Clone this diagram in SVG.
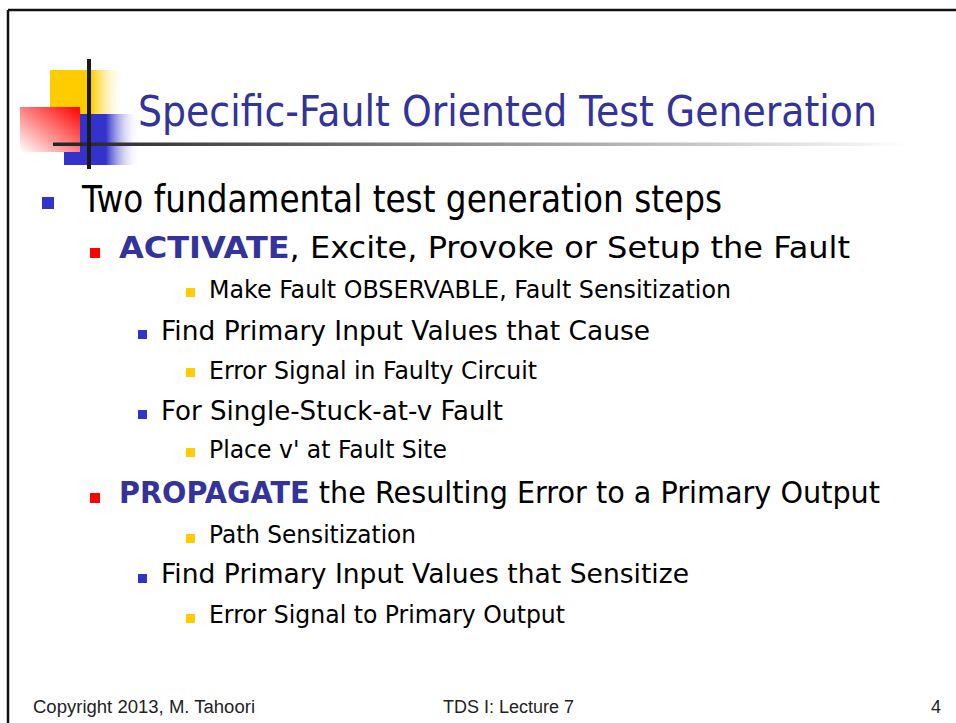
<svg xmlns="http://www.w3.org/2000/svg" width="956" height="723" viewBox="0 0 956 723">
  <defs>
    <linearGradient id="gYellow" x1="0" y1="0" x2="1" y2="0">
      <stop offset="0" stop-color="#FFCC00"/>
      <stop offset="0.55" stop-color="#FFCC00"/>
      <stop offset="1" stop-color="#FFFFFF" stop-opacity="0"/>
    </linearGradient>
    <linearGradient id="gBlue" x1="0" y1="0" x2="1" y2="0">
      <stop offset="0" stop-color="#3333CC"/>
      <stop offset="0.55" stop-color="#3333CC"/>
      <stop offset="1" stop-color="#FFFFFF" stop-opacity="0"/>
    </linearGradient>
    <linearGradient id="gRed" x1="1" y1="0" x2="0" y2="1">
      <stop offset="0" stop-color="#FF0000"/>
      <stop offset="1" stop-color="#FFFFFF"/>
    </linearGradient>
    <linearGradient id="gRule" x1="53" y1="0" x2="910" y2="0" gradientUnits="userSpaceOnUse">
      <stop offset="0" stop-color="#222222"/>
      <stop offset="1" stop-color="#FFFFFF"/>
    </linearGradient>
  </defs>
  <style>
    .body { font-family: "DejaVu Sans", Verdana, sans-serif; fill: #000000; }
    .title { font-family: "DejaVu Sans", Verdana, sans-serif; fill: #333399; font-size: 42px; }
    .kw { font-weight: bold; fill: #333399; }
    .l1 { font-size: 37px; }
    .l2 { font-size: 30px; }
    .l3 { font-size: 27px; }
    .l4 { font-size: 24px; }
    .foot { font-family: "Liberation Sans", Arial, sans-serif; font-size: 18px; fill: #222222; }
    .bBlue { fill: #3333CC; }
    .bRed { fill: #FF0000; }
    .bYellow { fill: #FFCC00; }
  </style>

  <rect width="956" height="723" fill="#FFFFFF"/>

  <!-- slide frame: top and left rules -->
  <g id="frame" stroke="#111111" stroke-width="2.5" fill="none">
    <line x1="8" y1="10" x2="956" y2="10"/>
    <line x1="8" y1="10" x2="8" y2="723"/>
  </g>

  <!-- title ornament -->
  <g id="ornament">
    <rect x="50" y="70" width="75" height="45" fill="url(#gYellow)"/>
    <rect x="64" y="114" width="76" height="51" fill="url(#gBlue)"/>
    <rect x="20" y="107" width="60" height="45" fill="url(#gRed)"/>
    <rect x="53" y="142.5" width="857" height="3.5" fill="url(#gRule)"/>
    <rect x="87" y="59" width="4" height="110" fill="#1A1A1A"/>
  </g>

  <g id="title">
    <text class="title" x="138" y="126" textLength="739" lengthAdjust="spacingAndGlyphs">Specific-Fault Oriented Test Generation</text>
  </g>

  <g id="bullets">
    <rect class="bBlue" x="42" y="197" width="12" height="12"/>
    <rect class="bRed" x="90" y="248" width="10" height="10"/>
    <rect class="bYellow" x="186" y="288" width="9" height="9"/>
    <rect class="bBlue" x="138" y="330" width="9" height="9"/>
    <rect class="bYellow" x="186" y="368" width="9" height="9"/>
    <rect class="bBlue" x="138" y="410" width="9" height="9"/>
    <rect class="bYellow" x="186" y="448" width="9" height="9"/>
    <rect class="bRed" x="90" y="493" width="10" height="10"/>
    <rect class="bYellow" x="186" y="534" width="9" height="9"/>
    <rect class="bBlue" x="138" y="574" width="9" height="9"/>
    <rect class="bYellow" x="186" y="614" width="9" height="9"/>
  </g>

  <g id="body-text" class="body">
    <text class="body l1" x="82" y="212" textLength="640" lengthAdjust="spacingAndGlyphs">Two fundamental test generation steps</text>
    <text class="body l2" x="119" y="258" textLength="731" lengthAdjust="spacingAndGlyphs"><tspan class="kw">ACTIVATE</tspan>, Excite, Provoke or Setup the Fault</text>
    <text class="body l4" x="209" y="298" textLength="522" lengthAdjust="spacingAndGlyphs">Make Fault OBSERVABLE, Fault Sensitization</text>
    <text class="body l3" x="161" y="340" textLength="489" lengthAdjust="spacingAndGlyphs">Find Primary Input Values that Cause</text>
    <text class="body l4" x="209" y="379" textLength="328" lengthAdjust="spacingAndGlyphs">Error Signal in Faulty Circuit</text>
    <text class="body l3" x="161" y="420" textLength="342" lengthAdjust="spacingAndGlyphs">For Single-Stuck-at-v Fault</text>
    <text class="body l4" x="209" y="458" textLength="238" lengthAdjust="spacingAndGlyphs">Place v' at Fault Site</text>
    <text class="body l2" x="119" y="503" textLength="761" lengthAdjust="spacingAndGlyphs"><tspan class="kw">PROPAGATE</tspan> the Resulting Error to a Primary Output</text>
    <text class="body l4" x="209" y="543" textLength="207" lengthAdjust="spacingAndGlyphs">Path Sensitization</text>
    <text class="body l3" x="161" y="583" textLength="528" lengthAdjust="spacingAndGlyphs">Find Primary Input Values that Sensitize</text>
    <text class="body l4" x="209" y="623" textLength="356" lengthAdjust="spacingAndGlyphs">Error Signal to Primary Output</text>
  </g>

  <g id="footer">
    <text class="foot" x="33" y="713" textLength="222" lengthAdjust="spacingAndGlyphs">Copyright 2013, M. Tahoori</text>
    <text class="foot" x="443" y="713">TDS I: Lecture 7</text>
    <text class="foot" x="941" y="713" text-anchor="end">4</text>
  </g>
</svg>
